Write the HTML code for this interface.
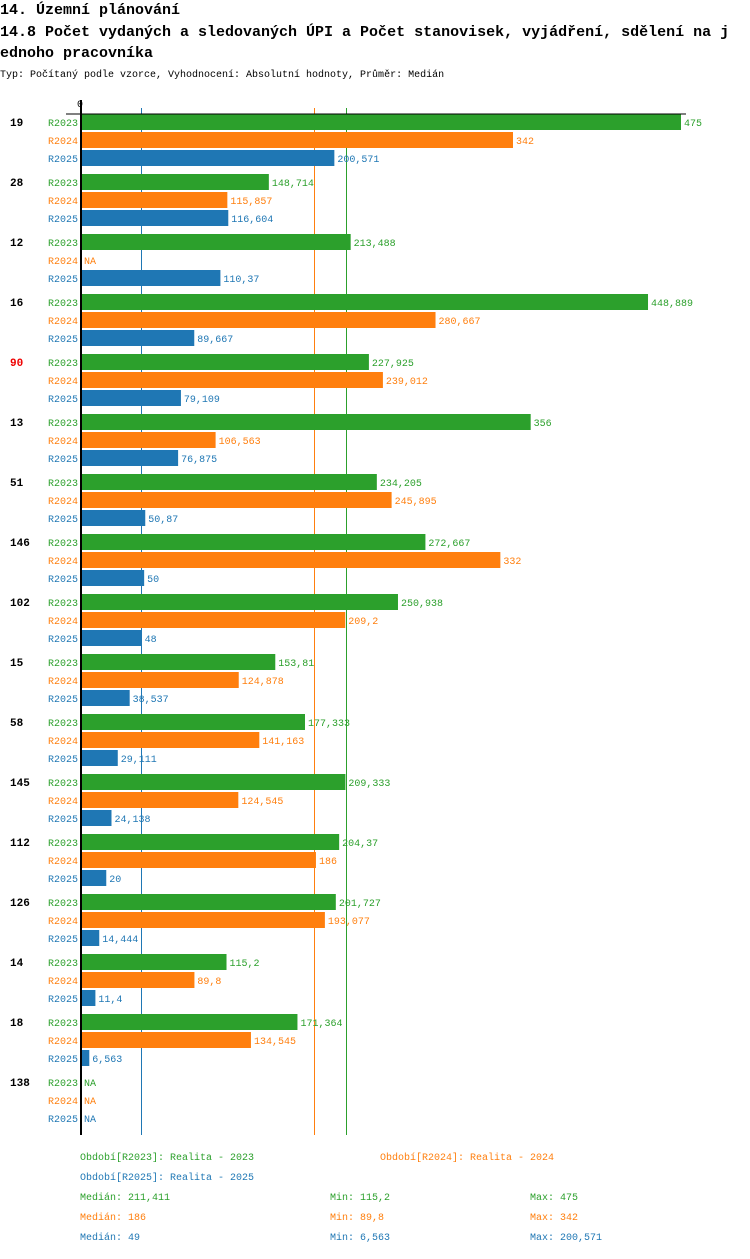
<!DOCTYPE html>
<html><head><meta charset="utf-8">
<style>
body{margin:0;background:#fff;width:750px;height:1254px;overflow:hidden;font-family:"Liberation Mono",monospace;}
svg text{font-family:"Liberation Mono",monospace;}
</style></head><body>
<svg id="chart" width="750" height="1254" xmlns="http://www.w3.org/2000/svg">
<text x="0" y="14" font-size="15" font-weight="bold" fill="#000">14. Územní plánování</text>
<text x="0" y="36" font-size="15" font-weight="bold" fill="#000">14.8 Počet vydaných a sledovaných ÚPI a Počet stanovisek, vyjádření, sdělení na j</text>
<text x="0" y="57" font-size="15" font-weight="bold" fill="#000">ednoho pracovníka</text>
<text x="0" y="77" font-size="10" fill="#000">Typ: Počítaný podle vzorce, Vyhodnocení: Absolutní hodnoty, Průměr: Medián</text>
<g id="grid"></g><g id="bars"></g><g id="axis"></g><g id="legend"></g>
</svg>
<script>
const categories=["19","28","12","16","90","13","51","146","102","15","58","145","112","126","14","18","138"];
const highlight=["90"];
const series=["R2023","R2024","R2025"];
const colors=["#2ca02c","#ff7f0e","#1f77b4"];
const v2023=[475,148.714,213.488,448.889,227.925,356,234.205,272.667,250.938,153.81,177.333,209.333,204.37,201.727,115.2,171.364,null];
const v2024=[342,115.857,null,280.667,239.012,106.563,245.895,332,209.2,124.878,141.163,124.545,186,193.077,89.8,134.545,null];
const v2025=[200.571,116.604,110.37,89.667,79.109,76.875,50.87,50,48,38.537,29.111,24.138,20,14.444,11.4,6.563,null];
const medians=[211.411,186,49];
const mins=[115.2,89.8,6.563];
const maxs=[475,342,200.571];
const periodNames=["Realita - 2023","Realita - 2024","Realita - 2025"];
const values=[v2023,v2024,v2025];
const NS="http://www.w3.org/2000/svg";
const X0=81,SCALE=600/475;
const x=v=>X0+v*SCALE;
const yBar=(i,k)=>114+60*i+18*k;
const fmt=v=>String(v).replace('.',',');
function mk(tag,attrs,parent,txt){const e=document.createElementNS(NS,tag);for(const a in attrs)e.setAttribute(a,attrs[a]);if(txt!==undefined)e.textContent=txt;parent.appendChild(e);return e;}
const grid=document.getElementById('grid'),bars=document.getElementById('bars'),axis=document.getElementById('axis'),legend=document.getElementById('legend');
const bottom=114+60*categories.length+1;
medians.forEach((m,k)=>{
 const px=Math.round(x(m))-1.5;
 const l=mk('line',{x1:px,x2:px,y1:108,y2:bottom,stroke:colors[k],'stroke-width':1},grid);
 
 
});
categories.forEach((c,i)=>{
 const t=mk('text',{x:10,y:yBar(i,0)+12,'font-size':11,'font-weight':'bold',fill:highlight.includes(c)?'#e00':'#000'},axis,c);
 
 
 series.forEach((s,k)=>{
  const y=yBar(i,k);const v=values[k][i];
  const lb=mk('text',{x:78,y:y+12,'font-size':10,fill:colors[k],'text-anchor':'end'},axis,s);
  
  
  if(v!==null){
   const r=mk('rect',{x:X0,y:y,width:x(v)-X0,height:16,fill:colors[k]},bars);
   
   
  }
  const vt=mk('text',{x:(v===null?X0:x(v))+3,y:y+12,'font-size':10,fill:colors[k]},bars,v===null?'NA':fmt(v));
  
  
 });
});
const ax=mk('line',{x1:81,x2:81,y1:100,y2:bottom,stroke:'#000','stroke-width':2},axis);


const tl=mk('line',{x1:66,x2:686,y1:114,y2:114,stroke:'#000','stroke-width':1},axis);


const z=mk('text',{x:80,y:107,'font-size':10,'text-anchor':'middle',fill:'#000'},axis,'0');


const lpos=[[80,1160],[380,1160],[80,1180]];
series.forEach((s,k)=>{
 const t=mk('text',{x:lpos[k][0],y:lpos[k][1],'font-size':10,fill:colors[k]},legend,'Období['+s+']: '+periodNames[k]);
 
 
 const y=1200+20*k;
 const a=mk('text',{x:80,y:y,'font-size':10,fill:colors[k]},legend,'Medián: '+fmt(medians[k]));
 
 
 const b=mk('text',{x:330,y:y,'font-size':10,fill:colors[k]},legend,'Min: '+fmt(mins[k]));
 
 
 const d=mk('text',{x:530,y:y,'font-size':10,fill:colors[k]},legend,'Max: '+fmt(maxs[k]));
 
 
});
</script>
</body></html>
